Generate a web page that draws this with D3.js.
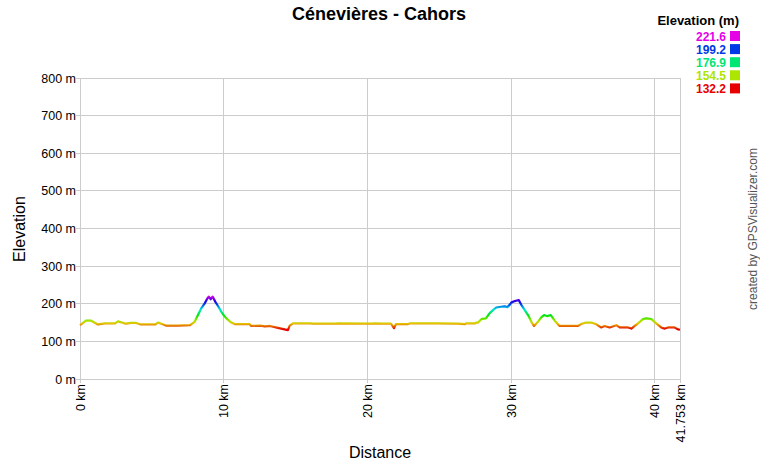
<!DOCTYPE html>
<html><head><meta charset="utf-8">
<script src="https://cdn.jsdelivr.net/npm/d3@7"></script>
<style>body{margin:0;background:#fff}svg{display:block}text{font-family:Arial,"Liberation Sans",sans-serif}</style>
</head><body><div id="chart"></div>
<script>
const title = "Cénevières - Cahors";
const distanceKm = [0,0.42,0.77,1.25,1.74,2.44,2.64,3.20,3.55,3.90,4.25,5.22,5.43,5.98,6.82,7.65,7.98,8.21,8.44,8.68,8.86,8.96,9.10,9.23,9.42,9.60,9.83,10.07,10.30,10.53,10.77,11.81,11.90,12.53,12.87,13.22,13.78,14.47,14.59,14.82,16.08,16.15,17.75,17.96,20.25,20.53,21.09,21.64,21.85,21.99,22.83,22.97,24.91,26.10,26.30,26.79,26.86,27.49,27.56,27.70,27.93,28.25,28.51,28.74,28.97,29.32,29.55,29.74,29.90,30.01,30.25,30.53,30.71,30.95,31.18,31.41,31.59,31.87,32.10,32.29,32.52,32.76,33.03,33.38,34.10,34.66,34.86,35.21,35.56,35.91,36.26,36.51,36.86,37.32,37.56,38.14,38.37,38.60,38.83,39.18,39.41,39.76,40.10,40.45,40.69,40.92,41.38,41.61,41.753];
const elevationM = [143,155,155,145,148,148,153,147,149,149,145,145,150,142,142,143,152,170,188,201,214,219,212,219,205,194,179,166,157,150,146,146,141,142,140,141,136,130,142,148,148,147,147,148,147,148,147,147,135,146,146,148,148,147,147,146,148,148,150,150,159,161,175,183,190,192,193,191,197,203,207,210,197,183,170,152,141,152,164,170,167,170,155,141,141,141,146,150,150,146,137,141,137,143,137,137,134,141,148,159,161,159,148,137,134,137,137,132,131];
const yTicks = [0,100,200,300,400,500,600,700,800];
const xTicks = [0,10,20,30,40,41.753];
const xTickLabels = ["0 km","10 km","20 km","30 km","40 km","41.753 km"];
const legendValues = [221.6,199.2,176.9,154.5,132.2];
const legendHues = [300,225,150,75,0];

const W=760,H=460;
const svg=d3.select("#chart").append("svg").attr("width",W).attr("height",H);
const x=d3.scaleLinear().domain([0,41.753]).range([80,680]);
const y=d3.scaleLinear().domain([0,800]).range([379,78]);
const hueScale=d3.scaleLinear().domain(legendValues.slice().reverse()).range(legendHues.slice().reverse()).clamp(true);
const col=v=>d3.hsl(hueScale(v),1,0.45).formatHex();

// grid
const g=svg.append("g");
g.selectAll(".hg").data(yTicks).join("line")
 .attr("x1",x(0)-4).attr("x2",x(41.753)).attr("y1",d=>y(d)).attr("y2",d=>y(d))
 .attr("stroke","#cccccc").attr("stroke-width",1).attr("shape-rendering","crispEdges");
g.selectAll(".vg").data(xTicks).join("line")
 .attr("x1",d=>x(d)).attr("x2",d=>x(d)).attr("y1",y(800)).attr("y2",y(0)+4)
 .attr("stroke","#cccccc").attr("stroke-width",1).attr("shape-rendering","crispEdges");

// y tick labels
g.selectAll(".yl").data(yTicks).join("text")
 .attr("x",x(0)-4).attr("y",d=>y(d)+4.5).attr("text-anchor","end")
 .attr("font-size","12.5px").attr("fill","#000").text(d=>d+" m");
// x tick labels
g.selectAll(".xl").data(xTicks).join("text")
 .attr("transform",(d,i)=>`translate(${x(d)+4.5},${y(0)+5}) rotate(-90)`)
 .attr("text-anchor","end").attr("font-size","12.5px").attr("fill","#000")
 .text((d,i)=>xTickLabels[i]);

// gradient
const defs=svg.append("defs");
const grad=defs.append("linearGradient").attr("id","eg").attr("gradientUnits","userSpaceOnUse")
 .attr("x1",0).attr("x2",0).attr("y1",y(132.2)).attr("y2",y(221.6));
d3.range(0,13).forEach(i=>{
  const v=132.2+(221.6-132.2)*i/12;
  grad.append("stop").attr("offset",(i/12)).attr("stop-color",col(v));
});
const pts=distanceKm.map((d,i)=>[d,elevationM[i]]);
svg.append("path").datum(pts)
 .attr("d",d3.line().x(d=>x(d[0])).y(d=>y(d[1])))
 .attr("fill","none").attr("stroke","url(#eg)").attr("stroke-width",2.2).attr("stroke-linejoin","round");

// titles
svg.append("text").attr("x",379).attr("y",20).attr("text-anchor","middle")
 .attr("font-size","18px").attr("font-weight","bold").text(title);
svg.append("text").attr("transform","translate(25,229) rotate(-90)").attr("text-anchor","middle")
 .attr("font-size","16px").text("Elevation");
svg.append("text").attr("x",380).attr("y",458).attr("text-anchor","middle")
 .attr("font-size","16px").text("Distance");
svg.append("text").attr("transform","translate(757,229) rotate(-90)").attr("text-anchor","middle")
 .attr("font-size","12px").attr("fill","#555").text("created by GPSVisualizer.com");

// legend
const lg=svg.append("g");
lg.append("text").attr("x",739).attr("y",25).attr("text-anchor","end")
 .attr("font-size","13px").attr("font-weight","bold").text("Elevation (m)");
legendValues.forEach((v,i)=>{
  const cy=36+i*13.1;
  lg.append("text").attr("x",726).attr("y",cy+4.5).attr("text-anchor","end")
   .attr("font-size","12px").attr("font-weight","bold").attr("fill",col(v)).text(v.toFixed(1));
  lg.append("rect").attr("x",730).attr("y",cy-5).attr("width",10).attr("height",10).attr("fill",col(v));
});
</script></body></html>
